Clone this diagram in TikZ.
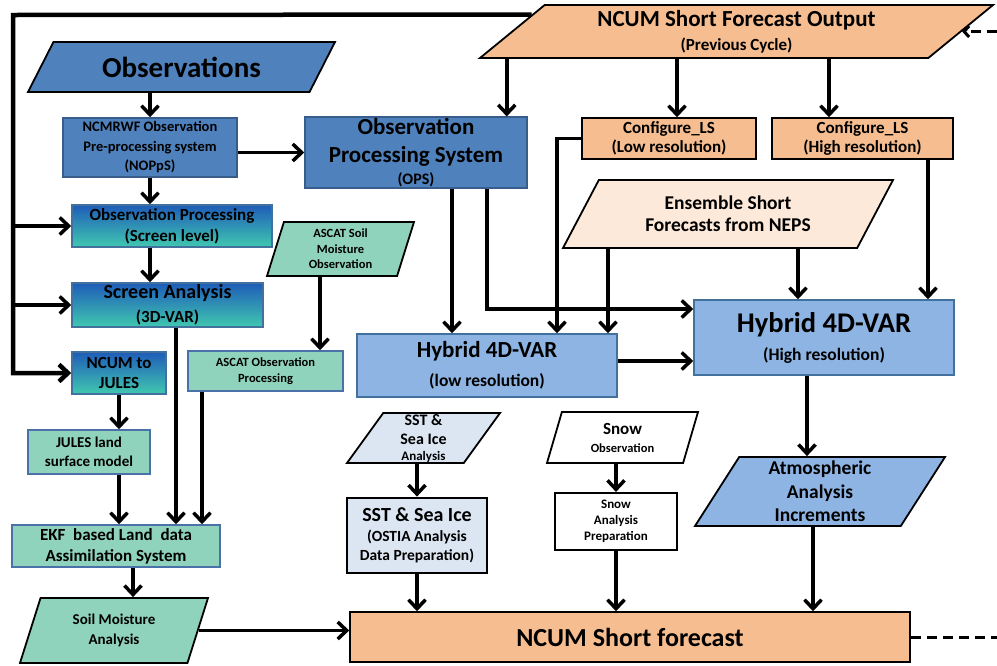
\documentclass[tikz,border=0pt]{standalone}
\usepackage{fontspec}
\setmainfont{Carlito}
\usetikzlibrary{positioning,shapes.geometric,arrows.meta,calc}

\definecolor{obsblue}{HTML}{4F81BD}
\definecolor{obsedge}{HTML}{385D8A}
\definecolor{hybblue}{HTML}{8EB4E3}
\definecolor{hybedge}{HTML}{41719C}
\definecolor{landgreen}{HTML}{8FD3BD}
\definecolor{landedge}{HTML}{4A72A8}
\definecolor{peach}{HTML}{F5BD90}
\definecolor{lightpeach}{HTML}{FDE9D9}
\definecolor{seablue}{HTML}{DCE6F2}
\definecolor{gradtop}{HTML}{1F5CB8}
\definecolor{gradmid}{HTML}{2E93CF}
\definecolor{gradbot}{HTML}{40C8B0}

\newcommand{\fsz}[2]{\fontsize{#1}{#2}\selectfont}

\begin{document}
\begin{tikzpicture}[x=1pt,y=-1pt,
    fs/.style 2 args={font=\bfseries\fontsize{#1}{#2}\selectfont},
    box/.style={draw, rectangle, line width=1.5pt, align=center, inner sep=1pt},
    gradbox/.style={box, draw=hybedge, top color=gradtop, middle color=gradmid, bottom color=gradbot},
    para/.style={draw=black, trapezium, trapezium stretches body, line width=1.8pt, align=center, inner xsep=1pt, inner ysep=0pt},
    arr/.style={line width=3.5pt, -{Straight Barb[length=9pt,width=17pt]}},
    loopline/.style={line width=4.5pt},
    dashline/.style={line width=3pt, dash pattern=on 10pt off 6pt}]

    \useasboundingbox (0,0) rectangle (997,665);
    \coordinate (lp) at (13,15);
    \coordinate (rt) at (997,0);

    % Input data (parallelograms)
    \node[para, fs={29}{32}, fill=obsblue, trapezium left angle=39, trapezium right angle=141, minimum width=307pt, minimum height=50pt] (obs) at (181.5,67) {Observations};
    \node[para, fs={23}{26}, fill=peach, trapezium left angle=33.5, trapezium right angle=146.5, minimum width=513pt, minimum height=53pt] (out) at (736.5,31.5) {NCUM Short Forecast Output\\[-2pt]\fsz{17}{19}(Previous Cycle)};
    \node[para, fs={19.5}{22}, fill=lightpeach, trapezium left angle=45, trapezium right angle=135, minimum width=330pt, minimum height=68pt] (ens) at (728,214) {Ensemble Short\\Forecasts from NEPS};
    \node[para, fs={12.5}{15.5}, fill=landgreen, trapezium left angle=67, trapezium right angle=113, minimum width=147pt, minimum height=54pt] (ascatsoil) at (340.5,249) {ASCAT Soil\\Moisture\\Observation};
    \node[para, fs={15}{20}, fill=landgreen, trapezium left angle=58, trapezium right angle=122, minimum width=188pt, minimum height=65pt] (sma) at (114,630.5) {Soil Moisture\\Analysis};
    \node[para, fs={16}{19}, fill=seablue, trapezium left angle=53, trapezium right angle=127, minimum width=153pt, minimum height=50pt] (sst) at (423.5,438) {SST \&\\Sea Ice\\[-3pt]\fsz{13}{15}Analysis};
    \node[para, fs={17}{18}, fill=white, trapezium left angle=63, trapezium right angle=117, minimum width=151pt, minimum height=51pt] (snowobs) at (622.5,437.5) {Snow\\\fsz{12.5}{14}Observation};
    \node[para, fs={19.5}{23.5}, fill=hybblue, trapezium left angle=54, trapezium right angle=126, minimum width=250pt, minimum height=69pt] (atm) at (820,491.5) {Atmospheric\\Analysis\\Increments};

    % Processing steps
    \node[box, fs={14.5}{19.5}, fill=obsblue, draw=obsedge, minimum width=174pt, minimum height=59pt] (nop) at (150,147.5) {NCMRWF Observation\\Pre-processing system\\(NOPpS)};
    \node[box, fs={23}{28}, fill=obsblue, draw=obsedge, minimum width=222pt, minimum height=69pt] (ops) at (416,152.5) {Observation\\Processing System\\[-6pt]\fsz{16}{18}(OPS)};
    \node[box, fs={17}{21}, gradbox, minimum width=200pt, minimum height=42pt] (obsproc) at (172,226) {Observation Processing\\(Screen level)};
    \node[box, fs={20}{24}, gradbox, minimum width=191pt, minimum height=44pt] (screen) at (167.5,305) {Screen Analysis\\\fsz{17}{19}(3D-VAR)};
    \node[box, fs={17}{20}, gradbox, minimum width=94pt, minimum height=42pt] (n2j) at (119,373) {NCUM to\\JULES};
    \node[box, fs={15}{19}, fill=landgreen, draw=landedge, minimum width=122pt, minimum height=44pt] (jules) at (89,452) {JULES land\\surface model};
    \node[box, fs={12.5}{16}, fill=landgreen, draw=landedge, minimum width=155pt, minimum height=40pt] (ascatproc) at (265.5,371) {ASCAT Observation\\Processing};
    \node[box, fs={17}{21}, fill=landgreen, draw=landedge, minimum width=208pt, minimum height=42pt] (ekf) at (116,546) {EKF~ based Land~ data\\Assimilation System};
    \node[box, fs={17}{18.5}, fill=peach, draw=black, minimum width=174pt, minimum height=41pt] (cfglo) at (669,138.5) {Configure\_LS\\(Low resolution)};
    \node[box, fs={17}{18.5}, fill=peach, draw=black, minimum width=181pt, minimum height=41pt] (cfghi) at (862.5,138.5) {Configure\_LS\\(High resolution)};
    \node[box, fs={23}{29}, fill=hybblue, draw=hybedge, minimum width=260pt, minimum height=63pt] (hylo) at (487,365.5) {Hybrid 4D-VAR\\\fsz{17.5}{19}(low resolution)};
    \node[box, fs={28.5}{28}, fill=hybblue, draw=hybedge, minimum width=260pt, minimum height=75pt] (hyhi) at (824,337.5) {Hybrid 4D-VAR\\\fsz{17.5}{19}(High resolution)};
    \node[box, fs={15.5}{19.5}, fill=seablue, draw=black, line width=2.8pt, minimum width=140pt, minimum height=75pt] (sstbox) at (417,535.5) {\fsz{20}{22}SST \& Sea Ice\\(OSTIA Analysis\\Data Preparation)};
    \node[box, fs={13}{16}, fill=white, draw=black, line width=2.2pt, minimum width=122pt, minimum height=57pt] (snowprep) at (616,521.5) {Snow\\Analysis\\Preparation};
    \node[box, fs={26}{28}, fill=peach, draw=black, minimum width=560pt, minimum height=50pt] (fcst) at (630,637) {NCUM Short forecast};

    % Observation branch
    \draw[arr] (nop.north |- obs.south) -- (nop.north);
    \draw[arr] (nop.east |- ops.west) -- (ops.west);
    \draw[arr] (nop.south) -- (nop.south |- obsproc.north);
    \draw[arr] (nop.south |- obsproc.south) -- (nop.south |- screen.north);

    % Cycle feedback on the left
    \draw[arr, loopline] ($(out.top left corner)!0.19!(out.bottom left corner)$) -- (lp) |- (n2j.west);
    \draw[arr] (lp |- obsproc.west) -- (obsproc.west);
    \draw[arr] (lp |- screen.west) -- (screen.west);

    % Land surface branch
    \draw[arr] (n2j.south) -- (n2j.south |- jules.north);
    \draw[arr] (n2j.south |- jules.south) -- (n2j.south |- ekf.north);
    \draw[arr] ([xshift=8.5pt]screen.south) -- ([xshift=8.5pt]screen.south |- ekf.north);
    \draw[arr] ([xshift=54.5pt]ascatproc.north |- ascatsoil.south) -- ([xshift=54.5pt]ascatproc.north);
    \draw[arr] ([xshift=-63.5pt]ascatproc.south) -- ([xshift=-63.5pt]ascatproc.south |- ekf.north);
    \draw[arr] ([xshift=17pt]ekf.south) -- ([xshift=17pt]ekf.south |- sma.north);
    \draw[arr] (sma.east) -- (sma.east -| fcst.west);

    % Previous cycle output
    \draw[arr] ([xshift=-21pt]ops.north east |- out.south) -- ([xshift=-21pt]ops.north east);
    \draw[arr] ([xshift=8pt]cfglo.north |- out.south) -- ([xshift=8pt]cfglo.north);
    \draw[arr] ([xshift=-33.5pt]cfghi.north |- out.south) -- ([xshift=-33.5pt]cfghi.north);

    % Into the hybrid 4D-VAR
    \draw[arr] ([xshift=-35pt]hylo.north |- ops.south) -- ([xshift=-35pt]hylo.north);
    \draw[arr] ([xshift=71pt]ops.south) |- ([yshift=28.5pt]hyhi.west);
    \draw[arr] (cfglo.west) -| ([xshift=70pt]hylo.north);
    \draw[arr] ([xshift=121pt]hylo.north |- ens.south) -- ([xshift=121pt]hylo.north);
    \draw[arr] ([xshift=-26pt]hyhi.north |- ens.south) -- ([xshift=-26pt]hyhi.north);
    \draw[arr] ([xshift=65.5pt]cfghi.south) -- ([xshift=65.5pt]cfghi.south |- hyhi.north);
    \draw[arr] ([yshift=4.5pt]hylo.east) -- ([yshift=4.5pt]hylo.east -| hyhi.west);
    \draw[arr] ([xshift=-17pt]hyhi.south) -- ([xshift=-17pt]hyhi.south |- atm.north);

    % Into the short forecast
    \draw[arr] ([xshift=183pt]fcst.north |- atm.south) -- ([xshift=183pt]fcst.north);
    \draw[arr] (sstbox.north |- sst.south) -- (sstbox.north);
    \draw[arr] (sstbox.south) -- (sstbox.south |- fcst.north);
    \draw[arr] (snowprep.north |- snowobs.south) -- (snowprep.north);
    \draw[arr] (snowprep.south) -- (snowprep.south |- fcst.north);

    % Next cycle (dashed)
    \draw[dashline] (fcst.east) -- (fcst.east -| rt);
    \draw[dashline, -{Straight Barb[length=5pt,width=11pt]}] (out.east -| rt) -- (out.east);
\end{tikzpicture}
\end{document}
